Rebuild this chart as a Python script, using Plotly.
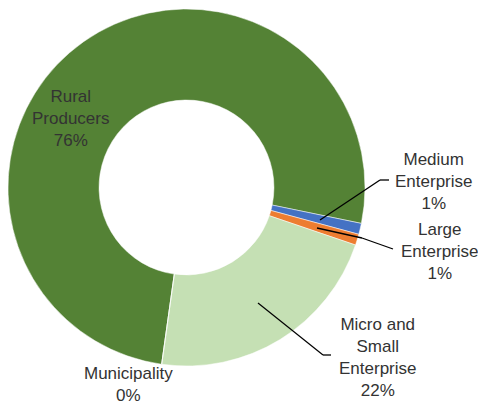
import plotly.graph_objects as go

W, H = 486, 405
OFF = 8  # page body margin in the browser

labels = ["Rural Producers", "Medium Enterprise", "Large Enterprise",
          "Micro and Small Enterprise", "Municipality"]
values = [76, 1, 1, 22, 0]
colors = ["#548235", "#4472C4", "#ED7D31", "#C5E0B4", "#A5A5A5"]

# label text as shown on the chart (wrapped like the original)
label_text = ["Rural<br>Producers", "Medium<br>Enterprise", "Large<br>Enterprise",
              "Micro and<br>Small<br>Enterprise", "Municipality"]


def px(x, y):
    # page pixel -> paper coords
    return (x - OFF) / W, 1 - (y - OFF) / H


fig = go.Figure(go.Pie(
    labels=labels,
    values=values,
    hole=0.49,
    sort=False,
    direction="clockwise",
    rotation=188,
    marker=dict(colors=colors, line=dict(color="white", width=0.5)),
    textinfo="none",
    hoverinfo="label+percent",
    domain=dict(x=[0, 357 / W], y=[1 - 359 / H, 1]),
    showlegend=False,
))

total = sum(values)
# label centres in page pixels
label_pos = [(70, 118), (433, 182), (439, 251), (377, 357), (128, 384)]
for txt, v, (x, y) in zip(label_text, values, label_pos):
    ax, ay = px(x, y)
    fig.add_annotation(
        x=ax, y=ay, xref="paper", yref="paper", showarrow=False,
        text=f"{txt}<br>{round(100 * v / total)}%",
        font=dict(family="Liberation Sans, Arial", size=17, color="#333333"),
        align="center", xanchor="center", yanchor="middle",
    )

# leader lines (page pixel paths)
leaders = [
    [(320, 220), (380, 180), (389, 180)],
    [(317, 228), (362, 238), (393, 249)],
    [(258, 303), (323, 355), (331, 355)],
]
for pts in leaders:
    for (x0, y0), (x1, y1) in zip(pts[:-1], pts[1:]):
        a0, b0 = px(x0, y0)
        a1, b1 = px(x1, y1)
        fig.add_shape(type="line", xref="paper", yref="paper",
                      x0=a0, y0=b0, x1=a1, y1=b1,
                      line=dict(color="#000000", width=1.3))

fig.update_layout(
    width=W, height=H,
    margin=dict(l=0, r=0, t=0, b=0),
    paper_bgcolor="white",
    plot_bgcolor="white",
)

fig.write_html("out.html")
